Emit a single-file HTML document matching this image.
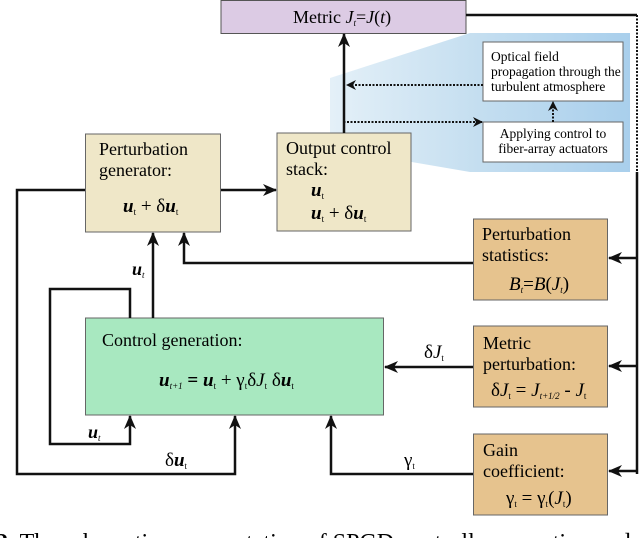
<!DOCTYPE html>
<html><head><meta charset="utf-8"><style>
body{margin:0;background:#fff;}
svg, svg text{font-family:"Liberation Serif","DejaVu Serif","Times New Roman",serif;}
svg{display:block;}
</style></head><body>
<svg width="640" height="538" viewBox="0 0 640 538" xmlns="http://www.w3.org/2000/svg">
<defs>
<linearGradient id="bg" x1="0" y1="0" x2="1" y2="0">
<stop offset="0" stop-color="#e4f0f8"/><stop offset="0.5" stop-color="#c4def0"/><stop offset="1" stop-color="#a9cfec"/>
</linearGradient>
<marker id="ah" markerWidth="14" markerHeight="12" refX="13" refY="6" orient="auto" markerUnits="userSpaceOnUse">
<path d="M0,0 L14,6 L0,12 L4,6 z" fill="#111"/></marker>
<marker id="ahs" markerWidth="10" markerHeight="10" refX="9" refY="5" orient="auto" markerUnits="userSpaceOnUse">
<path d="M0,0 L10,5 L0,10 L3,5 z" fill="#111"/></marker>
</defs>
<polygon points="330,78 470,33 630,33 630,172 470,172 330,148" fill="url(#bg)"/>
<rect x="221" y="0.5" width="245" height="33" fill="#dccbe4" stroke="#555"/>
<text x="293" y="23" font-size="18">Metric  <tspan font-style="italic">J</tspan><tspan font-size="9" font-style="italic" dy="3">t</tspan><tspan dy="-3">=</tspan><tspan font-style="italic">J</tspan>(<tspan font-style="italic">t</tspan>)</text>
<rect x="483" y="42" width="140" height="59" fill="#fff" stroke="#666"/>
<text font-size="13.5"><tspan x="491" y="61">Optical field</tspan><tspan x="491" y="76">propagation through the</tspan><tspan x="491" y="91">turbulent atmosphere</tspan></text>
<rect x="483" y="122" width="140" height="40" fill="#fff" stroke="#666"/>
<text font-size="13.5" text-anchor="middle"><tspan x="553" y="138">Applying control to</tspan><tspan x="553" y="153">fiber-array actuators</tspan></text>
<rect x="85.5" y="134" width="135" height="98" fill="#efe7c8" stroke="#666"/>
<text font-size="18"><tspan x="99" y="155">Perturbation</tspan><tspan x="99" y="176">generator:</tspan></text>
<text x="123" y="212" font-size="19"><tspan font-weight="bold" font-style="italic">u</tspan><tspan font-size="9" dy="3">t</tspan><tspan dy="-3"> + δ</tspan><tspan font-weight="bold" font-style="italic">u</tspan><tspan font-size="9" dy="3">t</tspan></text>
<rect x="277" y="133" width="134" height="98" fill="#efe7c8" stroke="#666"/>
<text font-size="18"><tspan x="286" y="154">Output control</tspan><tspan x="286" y="175">stack:</tspan></text>
<text x="311" y="196" font-size="19"><tspan font-weight="bold" font-style="italic">u</tspan><tspan font-size="9" dy="3">t</tspan></text>
<text x="311" y="219" font-size="19"><tspan font-weight="bold" font-style="italic">u</tspan><tspan font-size="9" dy="3">t</tspan><tspan dy="-3"> + δ</tspan><tspan font-weight="bold" font-style="italic">u</tspan><tspan font-size="9" dy="3">t</tspan></text>
<rect x="473.5" y="219" width="134" height="81" fill="#e6c38e" stroke="#666"/>
<text font-size="18"><tspan x="482" y="240">Perturbation</tspan><tspan x="482" y="261">statistics:</tspan></text>
<text x="509" y="290" font-size="19" font-style="italic">B<tspan font-size="9" dy="3">t</tspan><tspan dy="-3" font-style="normal">=</tspan>B<tspan font-style="normal">(</tspan>J<tspan font-size="9" dy="3">t</tspan><tspan dy="-3" font-style="normal">)</tspan></text>
<rect x="85.5" y="318" width="298" height="97" fill="#a8e8c0" stroke="#666"/>
<text x="102" y="346" font-size="18">Control generation:</text>
<text x="159" y="386" font-size="19"><tspan font-weight="bold" font-style="italic">u</tspan><tspan font-size="9" font-style="italic" dy="3">t+1</tspan><tspan dy="-3" font-weight="bold"> = </tspan><tspan font-weight="bold" font-style="italic">u</tspan><tspan font-size="9" dy="3">t</tspan><tspan dy="-3"> + γ</tspan><tspan font-size="9" dy="3">t</tspan><tspan dy="-3">δ</tspan><tspan font-style="italic">J</tspan><tspan font-size="9" dy="3">t</tspan><tspan dy="-3"> δ</tspan><tspan font-weight="bold" font-style="italic">u</tspan><tspan font-size="9" dy="3">t</tspan></text>
<rect x="473.5" y="326" width="134" height="81" fill="#e6c38e" stroke="#666"/>
<text font-size="18"><tspan x="483" y="349">Metric</tspan><tspan x="483" y="370">perturbation:</tspan></text>
<text x="491" y="396" font-size="19">δ<tspan font-style="italic">J</tspan><tspan font-size="9" dy="3">t</tspan><tspan dy="-3"> = </tspan><tspan font-style="italic">J</tspan><tspan font-size="9" font-style="italic" dy="3">t+1/2</tspan><tspan dy="-3"> - </tspan><tspan font-style="italic">J</tspan><tspan font-size="9" dy="3">t</tspan></text>
<rect x="473.5" y="434" width="134" height="81" fill="#e6c38e" stroke="#666"/>
<text font-size="18"><tspan x="483" y="456">Gain</tspan><tspan x="483" y="477">coefficient:</tspan></text>
<text x="506" y="504" font-size="19">γ<tspan font-size="9" dy="3">t</tspan><tspan dy="-3"> = γ</tspan><tspan font-size="9" dy="3">t</tspan><tspan dy="-3">(</tspan><tspan font-style="italic">J</tspan><tspan font-size="9" dy="3">t</tspan><tspan dy="-3">)</tspan></text>
<g stroke="#111" stroke-width="2.5" fill="none">
<line x1="221" y1="190" x2="276" y2="190" marker-end="url(#ah)"/>
<line x1="344" y1="133" x2="344" y2="34" marker-end="url(#ah)"/>
<polyline points="466,15 637,15"/>
<polyline points="637,172 637,474"/>
<line x1="637" y1="258" x2="609" y2="258" marker-end="url(#ah)"/>
<line x1="637" y1="366" x2="609" y2="366" marker-end="url(#ah)"/>
<line x1="637" y1="471" x2="609" y2="471" marker-end="url(#ah)"/>
<polyline points="473,263 184,263 184,233" marker-end="url(#ah)"/>
<polyline points="153,318 153,233" marker-end="url(#ah)"/>
<polyline points="130,318 130,289 50,289 50,444 130,444 130,416" marker-end="url(#ah)"/>
<polyline points="85,190 17,190 17,474 235,474 235,416" marker-end="url(#ah)"/>
<line x1="473" y1="367" x2="385" y2="367" marker-end="url(#ah)"/>
<polyline points="473,474 331,474 331,416" marker-end="url(#ah)"/>
</g>
<g stroke="#111" stroke-width="2" fill="none" stroke-dasharray="2,1.5">
<line x1="637" y1="15" x2="637" y2="172"/>
<line x1="483" y1="85" x2="347" y2="85" marker-end="url(#ahs)"/>
<polyline points="344,133 344,122 482,122" marker-end="url(#ahs)"/>
<line x1="553" y1="122" x2="553" y2="102" marker-end="url(#ahs)"/>
</g>
<text x="132" y="275" font-size="18" font-weight="bold" font-style="italic">u<tspan font-size="9" font-weight="normal" dy="3">t</tspan></text>
<text x="88" y="438" font-size="18" font-weight="bold" font-style="italic">u<tspan font-size="9" font-weight="normal" dy="3">t</tspan></text>
<text x="165" y="466" font-size="19">δ<tspan font-weight="bold" font-style="italic">u</tspan><tspan font-size="9" dy="3">t</tspan></text>
<text x="424" y="358" font-size="19">δ<tspan font-style="italic">J</tspan><tspan font-size="9" dy="3">t</tspan></text>
<text x="404" y="466" font-size="19">γ<tspan font-size="9" dy="3">t</tspan></text>
<text x="-4" y="550" font-size="24"><tspan font-weight="bold">2.</tspan>  The schematic representation of SPGD controller operation and</text>
</svg>
</body></html>
